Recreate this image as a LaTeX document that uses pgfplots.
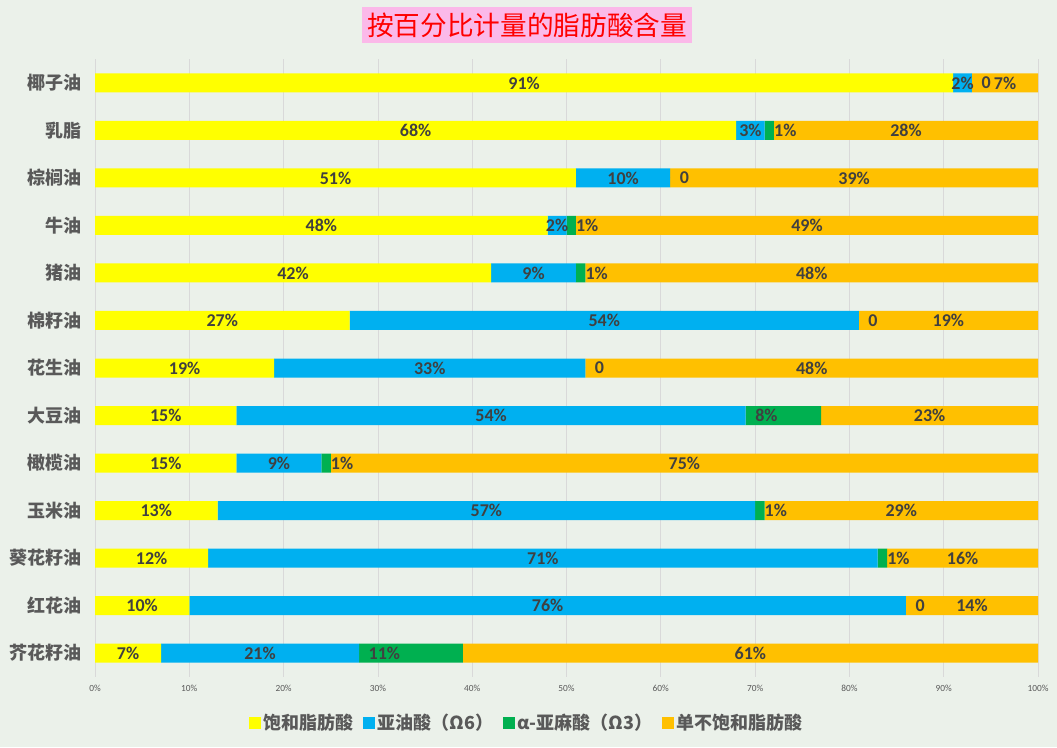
\documentclass[border=0pt]{standalone}
\usepackage{pgfplots}
\pgfplotsset{compat=1.18}
\usepackage{pgfplotstable}
\usepackage{fontspec}
\setmainfont{Carlito}
\newfontfamily\cjk{Noto Sans CJK SC}
\definecolor{bg}{HTML}{EBF1EA}
\definecolor{cy}{HTML}{FFFF00}
\definecolor{cb}{HTML}{00B0F0}
\definecolor{cg}{HTML}{00B050}
\definecolor{co}{HTML}{FFC000}
\definecolor{lab}{HTML}{404040}
\definecolor{cat}{HTML}{595959}
\definecolor{gridc}{HTML}{D9D9D9}
\definecolor{pinkt}{HTML}{FBB9E9}

\pgfplotstableread{
idx sat lin ala mono
12 91 2 0 7
11 68 3 1 28
10 51 10 0 39
9 48 2 1 49
8 42 9 1 48
7 27 54 0 19
6 19 33 0 48
5 15 54 8 23
4 15 9 1 75
3 13 57 1 29
2 12 71 1 16
1 10 76 0 14
0 7 21 11 61
}\data

\newcommand\lbl[1]{\ifdim#1pt<0.5pt 0\else\pgfmathprintnumber[fixed,precision=0]{#1}\%\fi}

\pgfplotsset{
  base/.style={
    at={(71.25pt,52.6875pt)}, anchor=south west,
    scale only axis, width=707.25pt, height=463.125pt,
    xmin=0, xmax=100, ymin=-0.5, ymax=12.5,
    ytick={0,...,12}, xtick={0,10,...,100},
  },
  lblplot/.style={only marks, mark=*, mark size=0pt, mark options={draw=none, fill=none}},
}

\begin{document}
\begin{tikzpicture}
\useasboundingbox (0,0) rectangle (792.75pt,560.25pt);
\fill[bg] (0,0) rectangle (792.75pt,560.25pt);
\node[fill=pinkt, text=red, font=\cjk\fontsize{20}{24}\selectfont, minimum width=248pt, minimum height=27pt, inner sep=0pt] at (395.25pt,541.5pt) {按百分比计量的脂肪酸含量};

\begin{axis}[base,
  xbar stacked, bar width=14.25pt,
  axis line style={draw=none},
  major tick length=0pt,
  xmajorgrids, grid style={gridc, line width=0.6pt},
  /pgf/number format/assume math mode=true,
  xticklabel={\pgfmathprintnumber{\tick}\%},
  xticklabel style={font=\fontsize{7}{8}\selectfont, text=cat, anchor=north, inner sep=0pt, yshift=-6pt},
  yticklabels={芥花籽油,红花油,葵花籽油,玉米油,橄榄油,大豆油,花生油,棉籽油,猪油,牛油,棕榈油,乳脂,椰子油},
  yticklabel style={font=\cjk\bfseries\fontsize{13.5}{16}\selectfont, text=cat, anchor=east, inner sep=0pt, xshift=-9.75pt},
  legend style={at={(0.458,-0.0749)}, anchor=center, draw=none, fill=none,
    font=\cjk\bfseries\fontsize{13.5}{16}\selectfont, text=cat,
    /tikz/every even column/.append style={column sep=5pt}},
  legend columns=4,
  legend image code/.code={\fill[#1] (0pt,-4.5pt) rectangle (9pt,4.5pt);},
]
\addplot[fill=cy, draw=none] table[x=sat, y=idx]{\data};
\addplot[fill=cb, draw=none] table[x=lin, y=idx]{\data};
\addplot[fill=cg, draw=none] table[x=ala, y=idx]{\data};
\addplot[fill=co, draw=none] table[x=mono, y=idx]{\data};
\legend{饱和脂肪酸, 亚油酸（Ω6）, α-亚麻酸（Ω3）, 单不饱和脂肪酸}
\end{axis}

\begin{axis}[base, hide axis, clip=false,
  /pgf/number format/assume math mode=true,
  nodes near coords={\lbl{\v}},
  every node near coord/.append style={font=\bfseries\fontsize{13.5}{16}\selectfont, text=lab, anchor=center},
]
\addplot[lblplot, visualization depends on={\thisrow{sat} \as \v}]
  table[x expr={\thisrow{sat}/2}, y=idx]{\data};
\addplot[lblplot, visualization depends on={\thisrow{lin} \as \v}]
  table[x expr={\thisrow{sat}+\thisrow{lin}/2}, y=idx]{\data};
\addplot[lblplot, visualization depends on={\thisrow{ala} \as \v},
  nodes near coords style={anchor=west, inner sep=0pt, xshift=7pt}]
  table[x expr={\thisrow{sat}+\thisrow{lin}}, y=idx]{\data};
\addplot[lblplot, visualization depends on={\thisrow{mono} \as \v}]
  table[x expr={\thisrow{sat}+\thisrow{lin}+\thisrow{ala}+\thisrow{mono}/2}, y=idx]{\data};
\end{axis}
\end{tikzpicture}
\end{document}
